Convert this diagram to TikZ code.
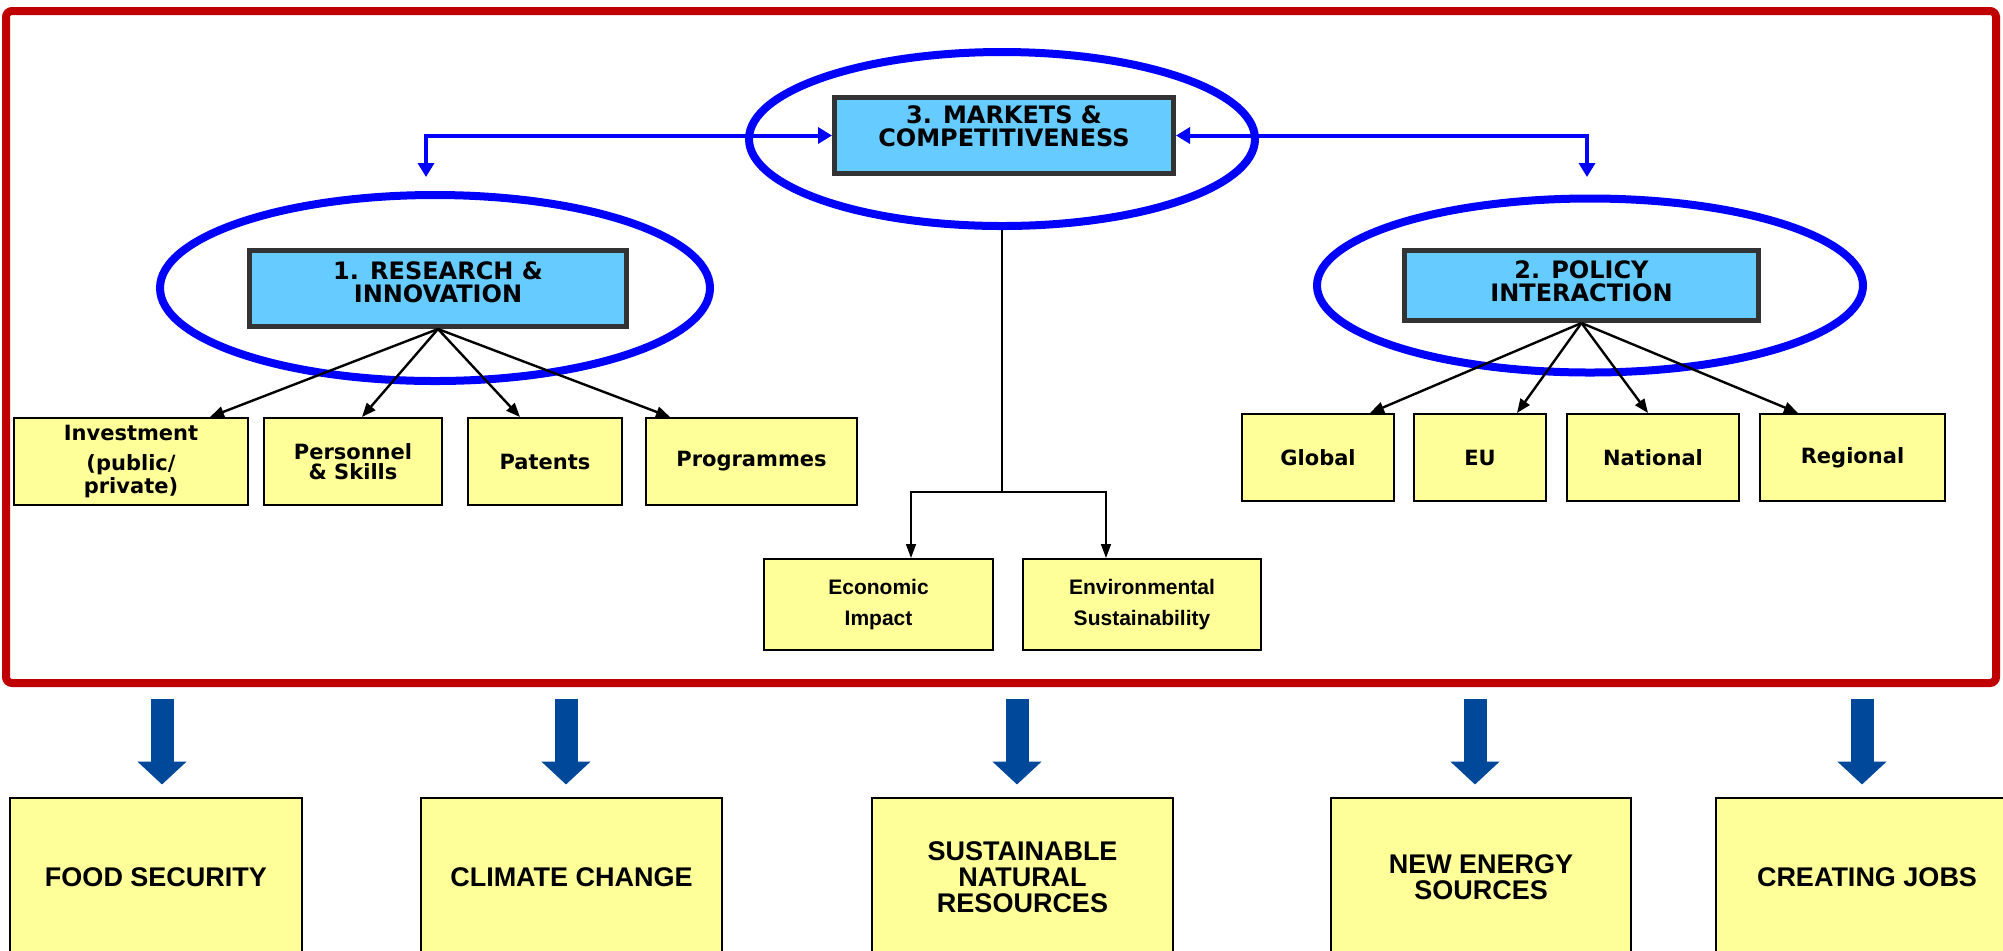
\documentclass[tikz,border=0pt]{standalone}
\usepackage{fontspec}
\setmainfont{DejaVu Sans}
\newfontfamily\arialfont{Liberation Sans}
\usetikzlibrary{arrows.meta,shapes.geometric}
\definecolor{framered}{HTML}{C00000}
\definecolor{ringblue}{HTML}{0000FF}
\definecolor{hubblue}{HTML}{66CCFF}
\definecolor{hubgray}{HTML}{333333}
\definecolor{leafyellow}{HTML}{FFFF99}
\definecolor{dropblue}{HTML}{00489A}
\tikzset{
  hub/.style={draw=hubgray, line width=2.5pt, fill=hubblue, align=center, inner sep=0pt,
    font=\fontsize{12}{11.5}\selectfont\bfseries},
  ring/.style={draw=ringblue, line width=4pt, ellipse, inner sep=0pt},
  leaf/.style={draw=black, line width=1pt, fill=leafyellow, align=center, inner sep=0pt,
    minimum height=43.5pt, font=\fontsize{10.5}{10}\selectfont\bfseries},
  effect/.style={draw=black, line width=1pt, fill=leafyellow, align=center, inner sep=0pt,
    minimum height=45.5pt, font=\arialfont\fontsize{10.5}{15.5}\selectfont\bfseries},
  goal/.style={draw=black, line width=1pt, fill=leafyellow, align=center, inner sep=0pt,
    minimum height=80pt, font=\arialfont\fontsize{13.5}{13}\selectfont\bfseries},
  link/.style={ringblue, line width=2pt, {Triangle[length=7pt,width=8pt]}-{Triangle[length=7pt,width=8pt]}},
  fan/.style={black, line width=1.2pt, -{Triangle[length=7pt,width=5.5pt]}},
  fine/.style={black, line width=0.8pt},
  drop/.style={dropblue, line width=11.5pt, -{Triangle[length=11.5pt,width=24pt]}, shorten >=6pt}
}
\begin{document}
\begin{tikzpicture}[x=0.5pt, y=-0.5pt]

    \useasboundingbox (0,0) rectangle (2003,950);

    \draw[framered, line width=4pt, rounded corners=3pt] (6,11) rectangle (1996,683);

    \node[ring, minimum width=253pt, minimum height=87pt] (MKR) at (1002,139) {};
    \node[ring, minimum width=275pt, minimum height=93pt] (RIR) at (435,288) {};
    \node[ring, minimum width=273pt, minimum height=87pt] (PIR) at (1590,285.5) {};

    \node[hub, minimum width=169.5pt, minimum height=38pt, text depth=9pt] (MK) at (1004,135.5)
      {3. MARKETS \&\\COMPETITIVENESS};
    \node[hub, minimum width=188.5pt, minimum height=38pt, text depth=6pt] (RI) at (438,288.5)
      {1. RESEARCH \&\\INNOVATION};
    \node[hub, minimum width=177pt, minimum height=35pt, text depth=4pt] (PI) at (1581.5,285.5)
      {2. POLICY\\INTERACTION};

    \node[leaf, minimum width=117pt] (INV) at (131,461.5) {Investment\\[5pt](public/\\private)};
    \node[leaf, minimum width=89pt] (PER) at (353,461.5) {Personnel\\\& Skills};
    \node[leaf, minimum width=77pt] (PAT) at (545,461.5) {Patents};
    \node[leaf, minimum width=105.5pt] (PRO) at (751.5,461.5) {Programmes};

    \node[leaf, minimum width=76pt] (GLO) at (1318,457.5) {Global};
    \node[leaf, minimum width=66pt] (EU) at (1480,457.5) {EU};
    \node[leaf, minimum width=86pt] (NAT) at (1653,457.5) {National};
    \node[leaf, minimum width=92.5pt] (REG) at (1852.5,457.5) {Regional};

    \node[effect, minimum width=114.5pt] (EI) at (878.5,604.5) {Economic\\Impact};
    \node[effect, minimum width=119pt] (ES) at (1142,604.5) {Environmental\\Sustainability};

    \node[goal, minimum width=146pt] (FS) at (156,877.5) {FOOD SECURITY};
    \node[goal, minimum width=150.5pt] (CC) at (571.5,877.5) {CLIMATE CHANGE};
    \node[goal, minimum width=150.5pt] (SN) at (1022.5,877.5) {SUSTAINABLE\\NATURAL\\RESOURCES};
    \node[goal, minimum width=150pt] (NE) at (1481,877.5) {NEW ENERGY\\SOURCES};
    \node[goal, minimum width=151pt] (CJ) at (1867,877.5) {CREATING JOBS};

    \coordinate (RT) at (426,177);
    \coordinate (PT) at (1587,177);
    \coordinate (MJ) at (1002,492);

    \draw[link] (MK.west) -| (RT);
    \draw[link] (MK.east) -| (PT);

    \draw[fan] (RI.south) -- ([xshift=39.5pt]INV.north);
    \draw[fan] (RI.south) -- ([xshift=4.5pt]PER.north);
    \draw[fan] (RI.south) -- ([xshift=-12.5pt]PAT.north);
    \draw[fan] (RI.south) -- ([xshift=-40.75pt]PRO.north);

    \draw[fan] (PI.south) -- ([xshift=26pt]GLO.north);
    \draw[fan] (PI.south) -- ([xshift=18.5pt]EU.north);
    \draw[fan] (PI.south) -- ([xshift=-2.5pt]NAT.north);
    \draw[fan] (PI.south) -- ([xshift=-27.25pt]REG.north);

    \draw[fine] (MKR.south) -- (MJ);
    \draw[fine, -{Triangle[length=7pt,width=5pt]}] (MJ) -| ([xshift=16.25pt]EI.north);
    \draw[fine, -{Triangle[length=7pt,width=5pt]}] (MJ) -| ([xshift=-18pt]ES.north);

    \coordinate (D1) at (162,699);
    \coordinate (D2) at (566,699);
    \coordinate (D3) at (1017,699);
    \coordinate (D4) at (1475,699);
    \coordinate (D5) at (1862,699);

    \draw[drop] (D1) -- (D1 |- FS.north);
    \draw[drop] (D2) -- (D2 |- CC.north);
    \draw[drop] (D3) -- (D3 |- SN.north);
    \draw[drop] (D4) -- (D4 |- NE.north);
    \draw[drop] (D5) -- (D5 |- CJ.north);

  \end{tikzpicture}
\end{document}
